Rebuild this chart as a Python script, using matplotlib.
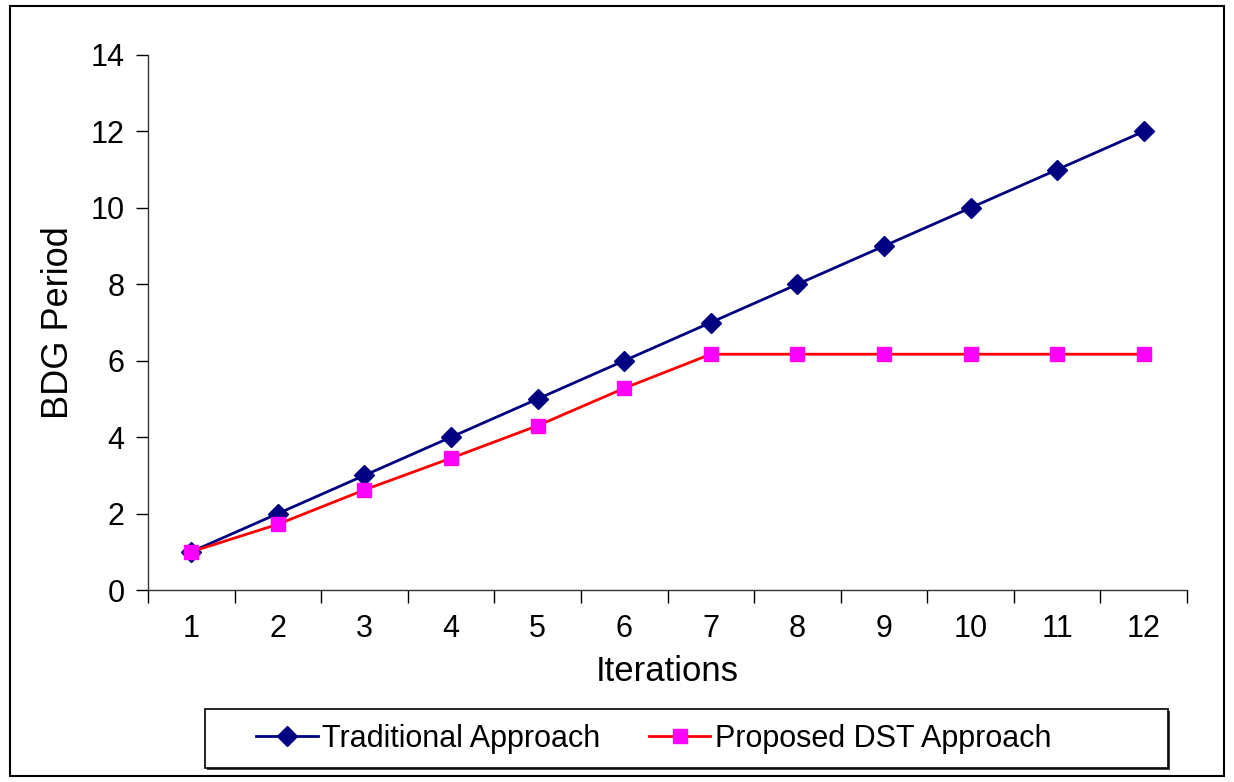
import matplotlib.pyplot as plt
from matplotlib.patches import Rectangle
import numpy as np

plt.rcParams['font.family'] = ['Liberation Sans', 'DejaVu Sans']

# data
iterations = [1, 2, 3, 4, 5, 6, 7, 8, 9, 10, 11, 12]
traditional = [1, 2, 3, 4, 5, 6, 7, 8, 9, 10, 11, 12]
proposed = [1, 1.72, 2.62, 3.45, 4.3, 5.28, 6.17, 6.17, 6.17, 6.17, 6.17, 6.17]

W, H = 1234, 782
fig = plt.figure(figsize=(W / 100, H / 100), dpi=100)
ax = fig.add_axes([148 / W, 1 - 590 / H, (1187 - 148) / W, (590 - 55) / H])

# outer frame
fig.patches.append(Rectangle((10 / W, 1 - 776 / H), 1214 / W, 770 / H,
                             transform=fig.transFigure, fill=False,
                             edgecolor='black', linewidth=1.5))

ax.plot(iterations, traditional, color='#000080', linewidth=2, marker='D',
        markersize=10, label='Traditional Approach')
ax.plot(iterations, proposed, color='#FF0000', linewidth=2, marker='s',
        markersize=10, markerfacecolor='#FF00FF', markeredgecolor='#FF00FF',
        label='Proposed DST Approach')

ax.set_xlim(0.5, 12.5)
ax.set_ylim(0, 14)
ax.set_yticks(range(0, 15, 2))
ax.set_xticks(iterations)
ax.set_xticks(np.arange(0.5, 13, 1), minor=True)
ax.tick_params(axis='x', which='major', length=0, labelsize=22, pad=17)
ax.tick_params(axis='x', which='minor', length=9, width=1, direction='out')
ax.tick_params(axis='y', length=9, width=1, direction='out', labelsize=22, pad=8)

for s in ['top', 'right']:
    ax.spines[s].set_visible(False)
for s in ['left', 'bottom']:
    ax.spines[s].set_linewidth(1)
    ax.spines[s].set_color('#333333')

ax.set_xlabel('Iterations', fontsize=25, labelpad=8)
ax.set_ylabel('BDG Period', fontsize=26, labelpad=10)

# legend box with a slight shadow
fig.patches.append(Rectangle((207 / W, 1 - 770 / H), (1170 - 207) / W, (770 - 711) / H,
                             transform=fig.transFigure, facecolor='#444444',
                             edgecolor='none', zorder=0))
fig.patches.append(Rectangle((205 / W, 1 - 768 / H), (1168 - 205) / W, (768 - 709) / H,
                             transform=fig.transFigure, facecolor='white',
                             edgecolor='black', linewidth=1.2, zorder=1))
leg = fig.legend(loc='center', bbox_to_anchor=(654 / W, 1 - 739 / H),
                 ncol=2, fontsize=22, frameon=False,
                 handlelength=2.0, handletextpad=0.15, columnspacing=1.6)

fig.savefig('out.png', dpi=100)
